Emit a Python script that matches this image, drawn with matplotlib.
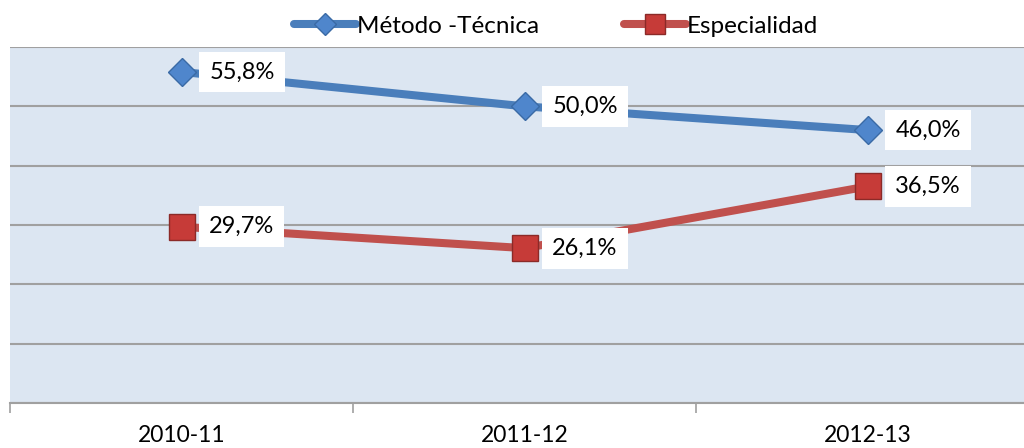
#!/usr/bin/env python3
"""Line chart: Método -Técnica vs Especialidad by academic year."""

import matplotlib.pyplot as plt
from matplotlib.lines import Line2D

plt.rcParams["font.family"] = ["Lato", "DejaVu Sans"]

years = ["2010-11", "2011-12", "2012-13"]
metodo = [55.8, 50.0, 46.0]
especialidad = [29.7, 26.1, 36.5]

BLUE = "#4a7ebb"
RED = "#c0504d"

fig = plt.figure(figsize=(10.24, 4.48), dpi=100)
ax = fig.add_axes([10 / 1024, 45 / 448, 1029 / 1024, 356 / 448])
ax.set_facecolor("#dce6f2")

xs = list(range(len(years)))
ax.plot(xs, metodo, color=BLUE, lw=5.8, marker="D", ms=14,
        mfc="#4f86cc", mec="#3a6aa5", mew=1.0, solid_capstyle="butt", zorder=3)
ax.plot(xs, especialidad, color=RED, lw=5.8, marker="s", ms=19,
        mfc="#c63b38", mec="#8b2a28", mew=1.0, solid_capstyle="butt", zorder=3)

for series in (metodo, especialidad):
    for x, v in zip(xs, series):
        ax.annotate(f"{v:.1f}%".replace(".", ","), (x, v),
                    xytext=(20, 0), textcoords="offset points",
                    ha="left", va="center", fontsize=17, color="black",
                    bbox=dict(boxstyle="square,pad=0.42", fc="white", ec="none"),
                    zorder=4)

ax.set_xlim(-0.5, 2.5)
ax.set_ylim(0, 60)
ax.set_yticks(range(0, 61, 10))
ax.set_yticklabels([])
ax.tick_params(axis="y", length=0)
ax.grid(axis="y", color="#a0a0a0", lw=1.5)
ax.set_axisbelow(True)

ax.set_xticks([-0.5, 0.5, 1.5])
ax.set_xticklabels([])
ax.tick_params(axis="x", length=7, width=1.2, color="#a0a0a0")
ax.set_xticks(xs, minor=True)
ax.set_xticklabels(years, minor=True, fontsize=16.5)
ax.tick_params(axis="x", which="minor", length=0, pad=16)

for side in ("top", "right", "left"):
    ax.spines[side].set_visible(False)
ax.spines["bottom"].set_color("#a0a0a0")
ax.spines["bottom"].set_linewidth(1.5)

handles = [
    Line2D([], [], color=BLUE, lw=5.8, marker="D", ms=11,
           mfc="#4f86cc", mec="#3a6aa5", solid_capstyle="round"),
    Line2D([], [], color=RED, lw=5.8, marker="s", ms=14,
           mfc="#c63b38", mec="#8b2a28", solid_capstyle="round"),
]
fig.legend(handles, ["Método -Técnica", "Especialidad"], loc="center",
           bbox_to_anchor=(556 / 1024, 1 - 26 / 448), ncol=2, frameon=False,
           fontsize=17.5, handlelength=2.55, handletextpad=0.05,
           columnspacing=3.5, borderpad=0)

fig.savefig("out.png", dpi=100)
